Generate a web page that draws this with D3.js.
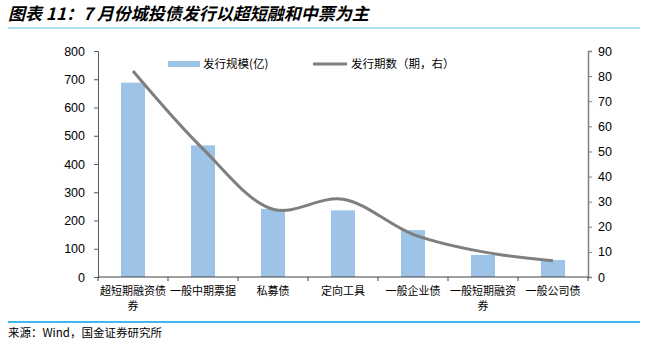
<!DOCTYPE html>
<html>
<head>
<meta charset="utf-8">
<script src="https://cdn.jsdelivr.net/npm/d3@7"></script>
<style>
  body { margin: 0; background: #fff; }
  svg { display: block; }
</style>
</head>
<body>
<svg id="chart" width="645" height="344"></svg>
<script>
// Issuance by bond type
const categories = ["超短期融资债券", "一般中期票据", "私募债", "定向工具", "一般企业债", "一般短期融资券", "一般公司债"];
// wrapped label lines per category
const categoryLines = [["超短期融资债", "券"], ["一般中期票据"], ["私募债"], ["定向工具"], ["一般企业债"], ["一般短期融资", "券"], ["一般公司债"]];
const issueAmount = [688, 466, 241, 236, 166, 78, 60];   // 发行规模(亿), left axis
const issueCount = [82, 51, 27, 31, 17, 10, 6.5];         // 发行期数, right axis
const leftTicks = [0, 100, 200, 300, 400, 500, 600, 700, 800];
const rightTicks = [0, 10, 20, 30, 40, 50, 60, 70, 80, 90];

const svg = d3.select("#chart");
const cjk = "'Noto Sans CJK SC', sans-serif";
const latin = "'Liberation Sans', Arial, sans-serif";

const plot = { left: 98, right: 588, top: 51, bottom: 277 };

const xBand = d3.scaleBand().domain(categories).range([plot.left, plot.right]);
const yL = d3.scaleLinear().domain([0, 800]).range([plot.bottom, plot.top]);
const yR = d3.scaleLinear().domain([0, 90]).range([plot.bottom, plot.top]);
const cx = (d) => xBand(d) + xBand.bandwidth() / 2;

// title and rules
svg.append("text").attr("x", 8).attr("y", 20)
  .attr("font-family", cjk).attr("font-size", 17).attr("font-weight", "bold")
  .attr("font-style", "italic").attr("fill", "#000")
  .text("图表 11：7 月份城投债发行以超短融和中票为主");
svg.append("line").attr("x1", 8).attr("x2", 640).attr("y1", 28).attr("y2", 28)
  .attr("stroke", "#5cc6f2").attr("stroke-width", 1);
svg.append("line").attr("x1", 8).attr("x2", 640).attr("y1", 322).attr("y2", 322)
  .attr("stroke", "#00a0e9").attr("stroke-width", 1.5);
svg.append("text").attr("x", 8).attr("y", 337)
  .attr("font-family", cjk).attr("font-size", 11.5).attr("fill", "#000")
  .text("来源：Wind，国金证券研究所");

// bars
svg.append("g").selectAll("rect").data(categories).join("rect")
  .attr("x", (d) => cx(d) - 12)
  .attr("width", 24)
  .attr("y", (d, i) => yL(issueAmount[i]))
  .attr("height", (d, i) => plot.bottom - yL(issueAmount[i]))
  .attr("fill", "#9dc3e6");

// smoothed count line
const line = d3.line()
  .x((d, i) => cx(categories[i]))
  .y((d) => yR(d))
  .curve(d3.curveCatmullRom.alpha(0.5));
svg.append("path").datum(issueCount).attr("d", line)
  .attr("fill", "none").attr("stroke", "#7f7f7f").attr("stroke-width", 3);

// left axis
const gL = svg.append("g").attr("transform", `translate(${plot.left},0)`)
  .call(d3.axisLeft(yL).tickValues(leftTicks).tickSize(4).tickPadding(9));
gL.select(".domain").attr("stroke", "#595959");
gL.selectAll(".tick line").attr("stroke", "#595959");
gL.selectAll("text").attr("font-family", latin).attr("font-size", 12.5).attr("fill", "#000");

// right axis
const gR = svg.append("g").attr("transform", `translate(${plot.right},0)`)
  .call(d3.axisRight(yR).tickValues(rightTicks).tickSize(4).tickPadding(6));
gR.select(".domain").attr("stroke", "#808080").attr("stroke-width", 1.5);
gR.selectAll(".tick line").attr("stroke", "#808080");
gR.selectAll("text").attr("font-family", latin).attr("font-size", 12.5).attr("fill", "#000");

// bottom axis with ticks at category boundaries
const gB = svg.append("g").attr("transform", `translate(0,${plot.bottom})`);
gB.append("line").attr("x1", plot.left).attr("x2", plot.right).attr("stroke", "#404040");
const bounds = categories.map((d) => xBand(d)).concat([plot.right]);
gB.selectAll("line.tk").data(bounds).join("line").attr("class", "tk")
  .attr("x1", (d) => d).attr("x2", (d) => d).attr("y1", 0).attr("y2", 4)
  .attr("stroke", "#404040");
// one text element per label line
const labelRows = [];
categories.forEach((d, i) => categoryLines[i].forEach((t, j) => labelRows.push({ x: cx(d), row: j, text: t })));
gB.selectAll("text.cat").data(labelRows).join("text").attr("class", "cat")
  .attr("x", (d) => d.x)
  .attr("y", (d) => 18 + d.row * 15)
  .attr("text-anchor", "middle")
  .attr("font-family", cjk).attr("font-size", 11).attr("fill", "#000")
  .text((d) => d.text);

// legend
const lg = svg.append("g");
lg.append("rect").attr("x", 168).attr("y", 61).attr("width", 32).attr("height", 6).attr("fill", "#9dc3e6");
lg.append("text").attr("x", 203).attr("y", 68).attr("font-family", cjk).attr("font-size", 11.5)
  .text("发行规模(亿)");
lg.append("line").attr("x1", 313).attr("x2", 347).attr("y1", 64).attr("y2", 64)
  .attr("stroke", "#7f7f7f").attr("stroke-width", 3);
lg.append("text").attr("x", 351).attr("y", 68).attr("font-family", cjk).attr("font-size", 11.5)
  .text("发行期数（期，右）");
</script>
</body>
</html>
